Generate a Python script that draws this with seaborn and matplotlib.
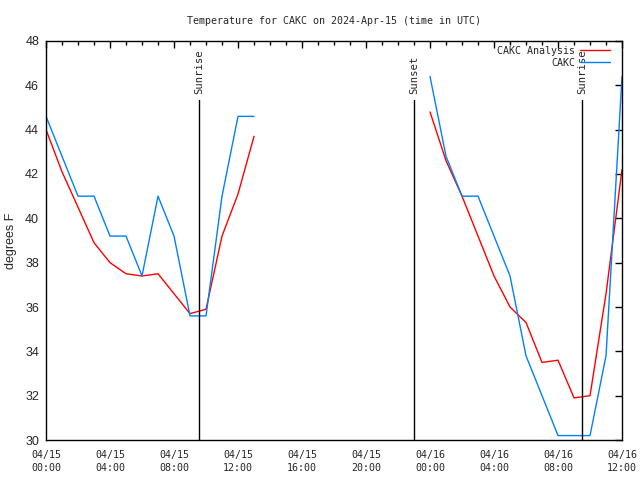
import numpy as np
import pandas as pd
import matplotlib
matplotlib.use("Agg")
import matplotlib.pyplot as plt
import matplotlib.dates as mdates
import seaborn as sns

start = pd.Timestamp("2024-04-15 00:00")

# hourly values, gap between the two runs
hours_a = list(range(0, 14))
hours_b = list(range(24, 37))

obs_a = [44.6, 42.8, 41.0, 41.0, 39.2, 39.2, 37.4, 41.0, 39.2, 35.6, 35.6, 41.0, 44.6, 44.6]
obs_b = [46.4, 42.8, 41.0, 41.0, 39.2, 37.4, 33.8, 32.0, 30.2, 30.2, 30.2, 33.8, 46.4]

ana_a = [44.0, 42.1, 40.5, 38.9, 38.0, 37.5, 37.4, 37.5, 36.6, 35.7, 35.9, 39.2, 41.1, 43.7]
ana_b = [44.8, 42.6, 41.0, 39.2, 37.4, 36.0, 35.3, 33.5, 33.6, 31.9, 32.0, 36.6, 42.2]

sun_events = ["Sunrise", "Sunset", "Sunrise"]
sun_hours = [9.56, 23.0, 33.5]

rows = []
for seg, (hrs, obs, ana) in enumerate([(hours_a, obs_a, ana_a), (hours_b, obs_b, ana_b)]):
    for h, o, a in zip(hrs, obs, ana):
        t = start + pd.Timedelta(hours=h)
        rows.append({"time": t, "temp": a, "series": "CAKC Analysis", "seg": seg})
        rows.append({"time": t, "temp": o, "series": "CAKC", "seg": seg})
df = pd.DataFrame(rows)

sns.set_style("white")
mono = "DejaVu Sans Mono"
msize = 7.2

fig = plt.figure(figsize=(6.4, 4.8), dpi=100)
ax = fig.add_axes([0.0719, 0.0833, 0.9, 0.8313])

palette = {"CAKC Analysis": "#ff0000", "CAKC": "#0080ff"}
sns.lineplot(data=df, x="time", y="temp", hue="series", units="seg",
             estimator=None, palette=palette, linewidth=1, ax=ax)

for name, h in zip(sun_events, sun_hours):
    t = start + pd.Timedelta(hours=h)
    ax.plot([t, t], [30, 45.35], color="black", linewidth=1)
    ax.text(t, 45.6, name, rotation=90, ha="center", va="bottom",
            family=mono, fontsize=7.6)

ax.set_xlim(start, start + pd.Timedelta(hours=36))
ax.set_ylim(30, 48)
ax.set_yticks(np.arange(30, 49, 2))
ax.xaxis.set_major_locator(mdates.HourLocator(byhour=range(0, 24, 4)))
ax.xaxis.set_minor_locator(mdates.HourLocator())
ax.xaxis.set_major_formatter(mdates.DateFormatter("%m/%d\n%H:%M"))
ax.tick_params(axis="both", which="both", direction="in", top=True, right=True,
               color="black")
ax.tick_params(axis="both", which="major", length=5, width=1)
ax.tick_params(axis="x", which="minor", length=3, width=1)
ax.tick_params(axis="x", labelsize=msize, pad=7)
ax.tick_params(axis="y", labelsize=9, pad=5)
for lab in ax.get_xticklabels():
    lab.set_family(mono)
    lab.set_linespacing(1.35)
for lab in ax.get_yticklabels():
    lab.set_family("Liberation Sans")
for sp in ax.spines.values():
    sp.set_color("black")
    sp.set_linewidth(1)

ax.set_xlabel("")
ax.set_ylabel("degrees F", family="Liberation Sans", fontsize=9, labelpad=6)
ax.set_title("Temperature for CAKC on 2024-Apr-15 (time in UTC)",
             family=mono, fontsize=msize, pad=12)

handles, labels = ax.get_legend_handles_labels()
ax.legend(handles, labels, loc="upper right", frameon=False, markerfirst=False,
          prop={"family": mono, "size": msize}, handlelength=3.0, handletextpad=0.5,
          labelspacing=0.2, borderaxespad=0, borderpad=0,
          bbox_to_anchor=(1 - 12 / 576, 1 - 5 / 399))

fig.savefig("out.png", dpi=100)
